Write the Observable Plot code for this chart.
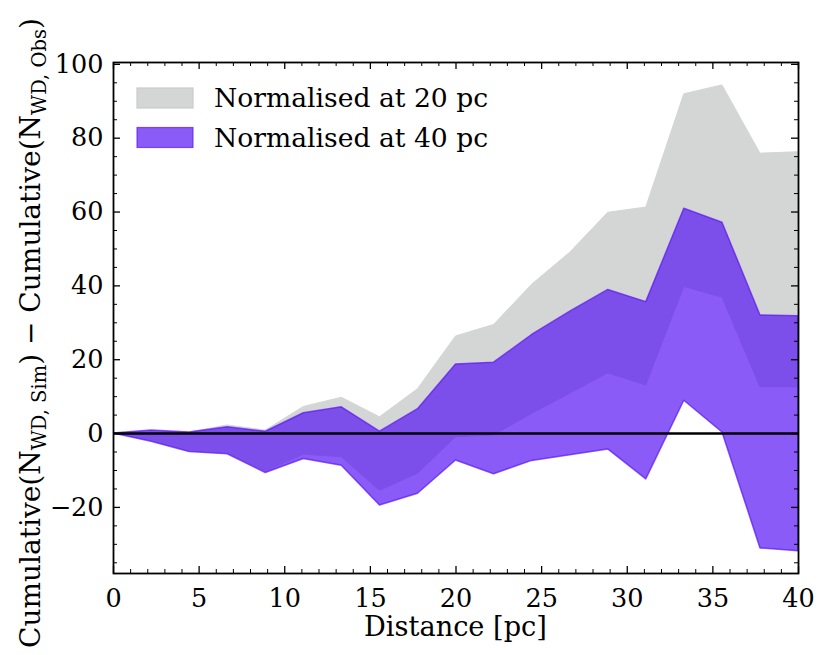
<!DOCTYPE html>
<html>
<head>
<meta charset="utf-8">
<script src="https://cdn.jsdelivr.net/npm/d3@7"></script>
<script src="https://cdn.jsdelivr.net/npm/@observablehq/plot@0.6"></script>
<style>
  html, body { margin: 0; padding: 0; background: #fff; }
  #chart svg { display: block; }
</style>
</head>
<body>
<div id="chart"></div>
<script>
// ---- data ----
const distance = [0, 2.22, 4.44, 6.67, 8.89, 11.11, 13.33, 15.56, 17.78, 20, 22.22, 24.44, 26.67, 28.89, 31.11, 33.33, 35.56, 37.78, 40];
const norm20Upper = [0, 0.5, 0.3, 2.2, 0.8, 7.2, 9.7, 4.4, 12.0, 26.3, 29.4, 40.3, 49.0, 59.8, 61.2, 91.9, 94.3, 75.8, 76.2];
const norm20Lower = [0, -2.0, -4.8, -5.3, -10.4, -5.7, -6.4, -15.5, -10.9, -1.0, -0.5, 5.3, 10.8, 16.3, 13.0, 39.7, 36.8, 12.5, 12.5];
const norm40Upper = [0, 0.8, 0.3, 1.7, 0.5, 5.5, 7.1, 0.5, 6.6, 18.7, 19.2, 26.7, 33.0, 38.9, 35.6, 60.9, 57.1, 32.0, 31.8];
const norm40Lower = [0, -2.2, -5.0, -5.6, -10.7, -6.9, -8.7, -19.5, -16.3, -7.3, -11.0, -7.4, -5.9, -4.3, -12.4, 8.9, 0.3, -31.1, -31.9];
const legendLabels = ["Normalised at 20 pc", "Normalised at 40 pc"];
const xMajorTicks = [0, 5, 10, 15, 20, 25, 30, 35, 40];
const xMinorTicks = [1,2,3,4,6,7,8,9,11,12,13,14,16,17,18,19,21,22,23,24,26,27,28,29,31,32,33,34,36,37,38,39];
const yMajorTicks = [-20, 0, 20, 40, 60, 80, 100];
const yMinorTicks = [-35,-30,-25,-15,-10,-5,5,10,15,25,30,35,45,50,55,65,70,75,85,90,95];

// ---- styling ----
const W = 831, H = 655, mL = 113, mR = 33, mT = 62, mB = 82;
const plotW = W - mL - mR, plotH = H - mT - mB;
const greyFill = "#d4d6d5";
const purple = "#5916f2";
const font = "DejaVu Serif";
const tickFont = 25.5;

const table = distance.map((d, i) => ({
  d,
  g1: norm20Lower[i], g2: norm20Upper[i],
  p1: norm40Lower[i], p2: norm40Upper[i]
}));

const MAJ = 7, MIN = 4;

const chart = Plot.plot({
  width: W, height: H,
  marginLeft: mL, marginRight: mR, marginTop: mT, marginBottom: mB,
  style: { fontFamily: font, fontSize: tickFont + "px", color: "black", background: "white", overflow: "visible" },
  x: { domain: [0, 40] },
  y: { domain: [-37.9, 100.5] },
  marks: [
    Plot.areaY(table, { x: "d", y1: "g1", y2: "g2", fill: greyFill, stroke: greyFill, strokeWidth: 1, clip: true }),
    Plot.areaY(table, { x: "d", y1: "p1", y2: "p2", fill: purple, fillOpacity: 0.7, stroke: purple, strokeOpacity: 0.7, strokeWidth: 1.5, clip: true }),
    Plot.ruleY([0], { stroke: "black", strokeWidth: 2.5 }),
    // inward ticks on all four sides
    Plot.ruleX(xMajorTicks, { x: d => d, insetTop: plotH - MAJ, stroke: "black", strokeWidth: 1.3 }),
    Plot.ruleX(xMajorTicks, { x: d => d, insetBottom: plotH - MAJ, stroke: "black", strokeWidth: 1.3 }),
    Plot.ruleX(xMinorTicks, { x: d => d, insetTop: plotH - MIN, stroke: "black", strokeWidth: 1 }),
    Plot.ruleX(xMinorTicks, { x: d => d, insetBottom: plotH - MIN, stroke: "black", strokeWidth: 1 }),
    Plot.ruleY(yMajorTicks, { y: d => d, insetRight: plotW - MAJ, stroke: "black", strokeWidth: 1.3 }),
    Plot.ruleY(yMajorTicks, { y: d => d, insetLeft: plotW - MAJ, stroke: "black", strokeWidth: 1.3 }),
    Plot.ruleY(yMinorTicks, { y: d => d, insetRight: plotW - MIN, stroke: "black", strokeWidth: 1 }),
    Plot.ruleY(yMinorTicks, { y: d => d, insetLeft: plotW - MIN, stroke: "black", strokeWidth: 1 }),
    Plot.axisX({ ticks: xMajorTicks, tickSize: 0, tickPadding: 15, label: null, fill: "black", fontSize: tickFont }),
    Plot.axisY({ ticks: yMajorTicks, tickSize: 0, tickPadding: 10, label: null, fill: "black", fontSize: tickFont }),
    Plot.frame({ stroke: "black", strokeWidth: 1.8 })
  ]
});

document.getElementById("chart").appendChild(chart);

const svg = d3.select(chart);

// legend
const leg = svg.append("g").attr("font-family", font).attr("font-size", 26.6).attr("text-anchor", "start");
const legendSwatches = [
  { fill: greyFill, fo: 1, stroke: "#c9cbca", so: 1 },
  { fill: purple, fo: 0.7, stroke: purple, so: 0.7 }
];
legendLabels.forEach((lab, i) => {
  const y0 = 88 + i * 39.5;
  leg.append("rect").attr("x", 137).attr("y", y0).attr("width", 56).attr("height", 20)
    .attr("fill", legendSwatches[i].fill).attr("fill-opacity", legendSwatches[i].fo)
    .attr("stroke", legendSwatches[i].stroke).attr("stroke-opacity", legendSwatches[i].so).attr("stroke-width", 1.2);
  leg.append("text").attr("x", 214).attr("y", y0 + 19).attr("fill", "black").attr("text-anchor", "start").text(lab);
});

// x label
svg.append("text")
  .attr("x", mL + plotW / 2).attr("y", 636)
  .attr("text-anchor", "middle")
  .attr("font-family", font).attr("font-size", 27.2).attr("fill", "black")
  .text("Distance [pc]");

// y label with subscripts
const yl = svg.append("text")
  .attr("transform", "translate(40,648) rotate(-90)")
  .attr("text-anchor", "start")
  .attr("font-family", font).attr("font-size", 28).attr("fill", "black");
yl.append("tspan").text("Cumulative(N");
yl.append("tspan").attr("font-size", 19.5).attr("dy", 6).text("WD, Sim");
yl.append("tspan").attr("dy", -6).text(") − Cumulative(N");
yl.append("tspan").attr("font-size", 19.5).attr("dy", 6).text("WD, Obs");
yl.append("tspan").attr("dy", -6).text(")");
</script>
</body>
</html>
